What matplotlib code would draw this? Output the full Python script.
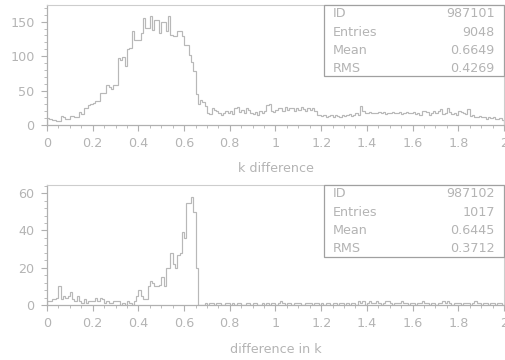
import numpy as np
import matplotlib
matplotlib.use("Agg")
import matplotlib.pyplot as plt
from matplotlib.patches import Rectangle
from matplotlib.ticker import MultipleLocator, FuncFormatter

# ---------------- data ----------------
x_min, x_max, n_bins = 0.0, 2.0, 200

counts_top = [
    10, 9, 7, 7, 6, 6, 13, 11, 9, 9,
    13, 13, 12, 12, 19, 16, 24, 24, 29, 31,
    32, 35, 35, 46, 46, 46, 58, 55, 53, 58,
    58, 97, 94, 99, 85, 111, 112, 136, 124, 124,
    124, 133, 155, 141, 141, 158, 138, 153, 153, 133,
    150, 150, 136, 158, 130, 129, 129, 136, 136, 129,
    116, 116, 102, 92, 78, 45, 30, 37, 33, 27,
    17, 16, 25, 22, 20, 18, 15, 18, 20, 17,
    21, 16, 24, 26, 19, 22, 17, 25, 22, 18,
    16, 19, 15, 20, 17, 21, 29, 31, 20, 19,
    22, 25, 24, 21, 26, 22, 24, 25, 21, 24,
    22, 26, 23, 20, 25, 22, 24, 20, 15, 14,
    13, 14, 12, 13, 15, 12, 14, 13, 12, 15,
    13, 14, 16, 13, 15, 17, 14, 28, 20, 18,
    18, 19, 17, 18, 17, 19, 18, 19, 16, 18,
    18, 19, 17, 17, 19, 16, 18, 19, 17, 18,
    19, 16, 18, 15, 20, 21, 19, 15, 17, 21,
    17, 20, 23, 16, 17, 24, 19, 16, 18, 15,
    20, 19, 17, 16, 23, 13, 15, 12, 11, 13,
    11, 12, 9, 11, 10, 12, 9, 8, 10, 7,
]

counts_bottom = [
    2, 2, 3, 3, 4, 10, 3, 5, 4, 5,
    7, 3, 2, 5, 2, 1, 3, 1, 2, 2,
    2, 4, 2, 4, 3, 1, 2, 1, 1, 2,
    2, 2, 0, 1, 0, 2, 1, 0, 2, 5,
    8, 5, 3, 3, 10, 13, 12, 10, 10, 11,
    15, 10, 20, 20, 28, 22, 20, 27, 28, 39,
    36, 55, 55, 58, 50, 20, 0, 0, 0, 1,
    0, 1, 1, 0, 1, 1, 0, 0, 1, 1,
    0, 1, 0, 1, 1, 0, 0, 1, 1, 0,
    1, 1, 0, 0, 1, 0, 1, 0, 1, 1,
    0, 1, 2, 1, 0, 1, 1, 0, 1, 1,
    1, 0, 0, 1, 1, 1, 0, 1, 1, 0,
    1, 0, 1, 1, 0, 1, 1, 0, 1, 1,
    0, 1, 0, 1, 1, 0, 2, 1, 2, 0,
    1, 2, 1, 1, 2, 1, 0, 1, 2, 2,
    1, 0, 1, 1, 1, 2, 1, 1, 0, 1,
    1, 0, 1, 1, 2, 1, 1, 0, 1, 1,
    0, 1, 1, 2, 1, 2, 1, 0, 1, 1,
    1, 0, 1, 1, 1, 0, 1, 2, 1, 1,
    0, 1, 1, 0, 1, 1, 0, 1, 1, 0,
]

xlabel_top = "k difference"
xlabel_bottom = "difference in k"

stat_labels = ["ID", "Entries", "Mean", "RMS"]
stats_top = ["987101", "9048", "0.6649", "0.4269"]
stats_bottom = ["987102", "1017", "0.6445", "0.3712"]

# ---------------- style ----------------
LINE = "#b8b8b8"
TEXT = "#b4b4b4"
FRAME = "#cdcdcd"
AXIS = "#b0b0b0"
BOX = "#a0a0a0"
FS = 9.2

plt.rcParams["font.family"] = ["DejaVu Sans"]

fig = plt.figure(figsize=(5.06, 3.60), dpi=100)
fig.patch.set_facecolor("white")

edges = np.linspace(x_min, x_max, n_bins + 1)


def fmt(v, pos):
    return "%g" % round(v, 3)


def setup(ax, counts, ymax, ymajor, yminor, xlabel, xlabel_y, stats, box_bottom, rows_y):
    ax.stairs(counts, edges, color=LINE, linewidth=0.85)
    ax.set_xlim(x_min, x_max)
    ax.set_ylim(0, ymax)
    for side in ["top", "right"]:
        ax.spines[side].set_color(FRAME)
        ax.spines[side].set_linewidth(0.8)
    for side in ["bottom", "left"]:
        ax.spines[side].set_color(AXIS)
        ax.spines[side].set_linewidth(0.9)
    ax.xaxis.set_major_locator(MultipleLocator(0.2))
    ax.xaxis.set_minor_locator(MultipleLocator(0.05))
    ax.yaxis.set_major_locator(MultipleLocator(ymajor))
    ax.yaxis.set_minor_locator(MultipleLocator(yminor))
    ax.xaxis.set_major_formatter(FuncFormatter(fmt))
    ax.yaxis.set_major_formatter(FuncFormatter(fmt))
    ax.tick_params(axis="both", which="major", direction="out", length=4.0,
                   width=0.8, color=AXIS, labelcolor=TEXT, labelsize=FS)
    ax.tick_params(axis="both", which="minor", direction="out", length=2.2,
                   width=0.7, color="#bcbcbc")
    ax.tick_params(axis="x", which="major", pad=4.5)
    ax.tick_params(axis="y", which="major", pad=5.0)
    ax.set_xlabel(xlabel, color=TEXT, fontsize=FS)
    ax.xaxis.set_label_coords(0.5, xlabel_y)
    ax.xaxis.label.set_verticalalignment("center")
    # statistics box
    ax.add_patch(Rectangle((0.606, box_bottom), 0.394, 1.0 - box_bottom,
                           transform=ax.transAxes, facecolor="white",
                           edgecolor=BOX, linewidth=0.9, zorder=5, clip_on=False))
    for lab, val, yy in zip(stat_labels, stats, rows_y):
        ax.text(0.626, yy, lab, transform=ax.transAxes, ha="left", va="center",
                color=TEXT, fontsize=FS, zorder=6)
        ax.text(0.980, yy, val, transform=ax.transAxes, ha="right", va="center",
                color=TEXT, fontsize=FS, zorder=6)


ax1 = fig.add_axes([0.0929, 0.6528, 0.9031, 0.3347])
setup(ax1, counts_top, 175, 50, 10, xlabel_top, -0.357, stats_top, 0.407,
      [0.927, 0.770, 0.622, 0.471])

ax2 = fig.add_axes([0.0929, 0.1528, 0.9031, 0.3342])
setup(ax2, counts_bottom, 64.6, 20, 4, xlabel_bottom, -0.374, stats_bottom, 0.399,
      [0.923, 0.768, 0.618, 0.466])

fig.savefig("out.png", dpi=100, facecolor="white")
